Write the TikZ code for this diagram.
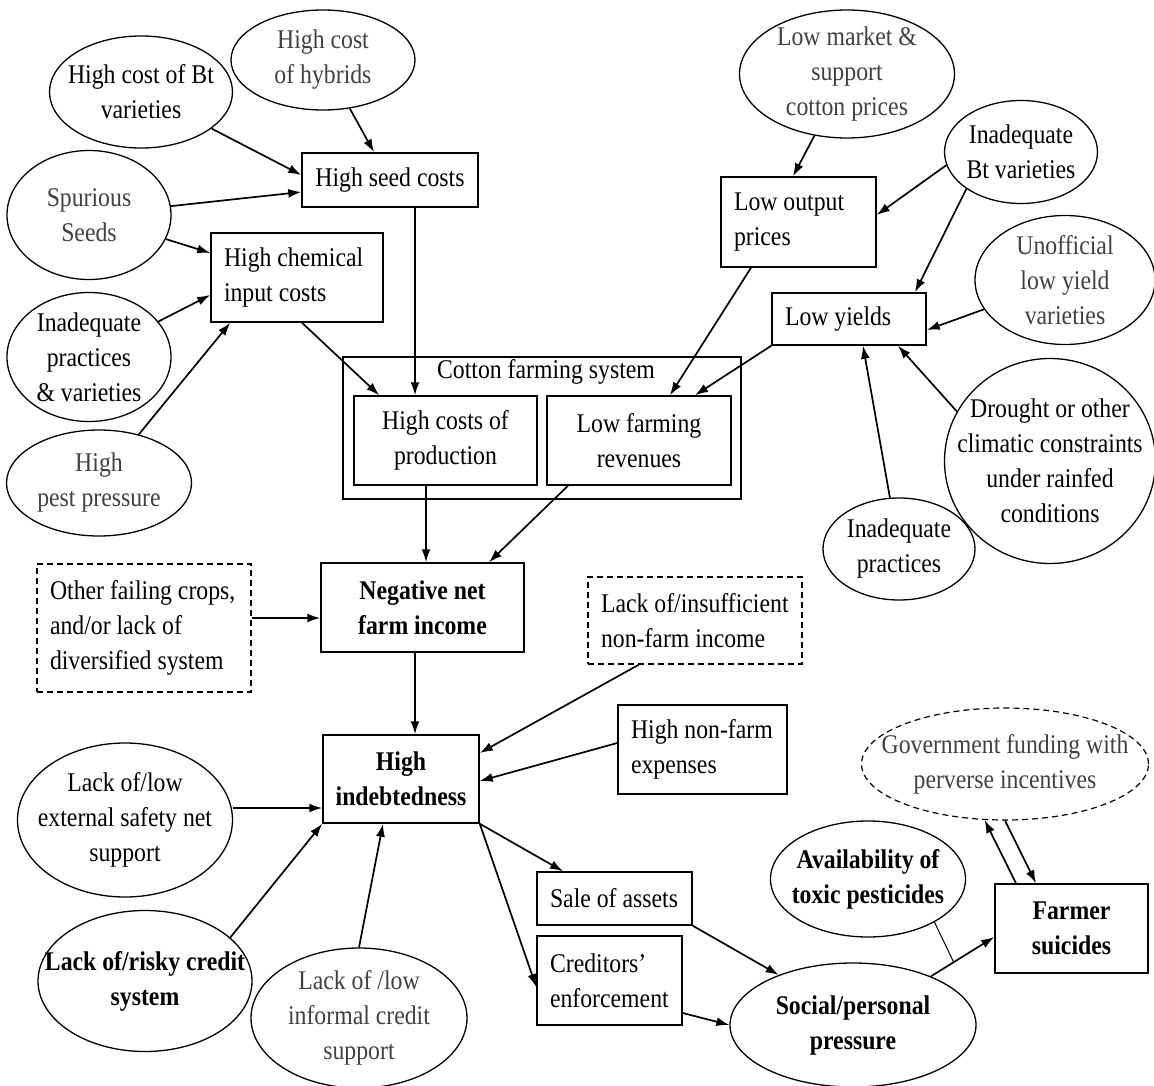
\documentclass[tikz,border=0pt]{standalone}
\usepackage{fontspec}
\setmainfont{Liberation Serif}[FakeStretch=0.88]
\usetikzlibrary{arrows.meta,shapes.geometric,calc}
\tikzset{
	>={Latex[length=13pt,width=9pt]},
	txt/.style={font=\fontsize{27}{35}\selectfont},
	strong/.style={font=\fontsize{27}{35}\selectfont\bfseries},
	faint/.style={text=black!75},
	box/.style 2 args={draw, line width=1.5pt, txt, inner sep=0pt, minimum width=#1, minimum height=#2, align=center},
	lbox/.style 2 args={draw, line width=1.5pt, txt, inner xsep=13pt, inner ysep=0pt, text width=#1, minimum height=#2, align=flush left},
	ell/.style 2 args={draw, ellipse, line width=1.3pt, txt, inner xsep=-40pt, inner ysep=-20pt, minimum width=#1, minimum height=#2, align=center},
	broken/.style={dash pattern=on 6pt off 4pt, line width=1.2pt},
	link/.style={->, line width=1.7pt}
}
\begin{document}
\begin{tikzpicture}[x=1pt, y=-1pt]
	\useasboundingbox (0,0) rectangle (1154,1086);

	\node[ell={183pt}{112pt}] (btcost) at (141,92) {High cost of Bt\\varieties};
	\node[ell={184pt}{100pt}, faint] (hybrid) at (323,60) {High cost\\of hybrids};
	\node[ell={164pt}{129pt}, faint] (spur) at (89,215) {Spurious\\Seeds};
	\node[ell={164pt}{129pt}] (inadpv) at (89,357) {Inadequate\\practices\\\& varieties};
	\node[ell={185pt}{106pt}, faint] (pest) at (99,483) {High\\pest pressure};

	\node[box={176pt}{54pt}] (seed) at (390,180) {High seed costs};
	\node[lbox={146pt}{89pt}] (chem) at (297,277.5) {High chemical\\input costs};

	\node[box={398pt}{142pt}] (cfs) at (542,428) {};
	\node[txt] (cfstitle) at (546,372) {Cotton farming system};
	\node[box={183pt}{89pt}] (hcp) at (445.5,440.5) {High costs of\\production};
	\node[box={184pt}{89pt}] (lfr) at (639,440.5) {Low farming\\revenues};

	\node[ell={215pt}{128pt}, faint] (market) at (847,74) {Low market \&\\support\\cotton prices};
	\node[ell={153pt}{103pt}] (inadbt) at (1021,152) {Inadequate\\Bt varieties};
	\node[lbox={129pt}{90pt}] (lop) at (798.5,222) {Low output\\prices};
	\node[ell={180pt}{129pt}, faint] (unoff) at (1065,280) {Unofficial\\low yield\\varieties};
	\node[lbox={128pt}{52pt}] (lyield) at (849,319) {Low yields};
	\node[ell={211pt}{205pt}] (drought) at (1050,461) {Drought or other\\climatic constraints\\under rainfed\\conditions};
	\node[ell={152pt}{102pt}] (inadp) at (899,549) {Inadequate\\practices};

	\node[lbox={188pt}{128pt}, broken] (other) at (144,628) {\mbox{Other failing crops,}\\and/or lack of\\diversified system};
	\node[box={203pt}{89pt}, strong] (neg) at (422.5,607.5) {Negative net\\farm income};
	\node[lbox={188pt}{87pt}, broken] (insuff) at (695,620.5) {\mbox{Lack of/insufficient}\\non-farm income};
	\node[box={156pt}{88pt}, strong] (indebt) at (401,779) {High\\indebtedness};
	\node[lbox={143pt}{89pt}] (nonfarm) at (702.5,749.5) {\mbox{High non-farm}\\expenses};

	\node[ell={215pt}{154pt}] (safety) at (125,820) {Lack of/low\\external safety net\\support};
	\node[ell={214pt}{141pt}, strong] (risky) at (145,981) {Lack of/risky credit\\system};
	\node[ell={216pt}{140pt}, faint] (informal) at (359,1018) {Lack of /low\\informal credit\\support};

	\node[lbox={129pt}{53pt}] (sale) at (614.5,898.5) {\mbox{Sale of assets}};
	\node[lbox={119pt}{89pt}] (cred) at (609.5,980.5) {Creditors’\\\mbox{enforcement}};
	\node[ell={246pt}{124pt}, strong] (social) at (853,1025) {Social/personal\\pressure};
	\node[ell={195pt}{116pt}, strong] (avail) at (868,879) {Availability of\\toxic pesticides};
	\node[ell={287pt}{112pt}, faint, broken] (govt) at (1005,764) {Government funding with\\perverse incentives};
	\node[box={153pt}{89pt}, strong] (farmer) at (1071.5,928.5) {Farmer\\suicides};

	\draw[link] (btcost) -- ([yshift=5pt]seed.west);
	\draw[link] (hybrid) -- ([xshift=-16pt]seed.north);
	\draw[link] (spur) -- ([yshift=-12pt]seed.west);
	\draw[link] (spur) -- ([yshift=24.5pt]chem.west);
	\draw[link] (inadpv) -- ([yshift=-17.5pt]chem.west);
	\draw[link] (pest) -- ([xshift=20pt]chem.south west);
	\draw[link] ([xshift=5pt]chem.south) -- ([xshift=26pt]hcp.north west);
	\draw[link] ([xshift=25pt]seed.south) -- ([xshift=-30.5pt]hcp.north);

	\draw[link] (market) -- ([xshift=-5.5pt]lop.north);
	\draw[link] (inadbt.190) -- ([yshift=7pt]lop.east);
	\draw[link] (inadbt.214) -- ([xshift=66pt]lyield.north);
	\draw[link] (unoff) -- ([yshift=-11pt]lyield.east);
	\draw[link] (inadp) -- ([xshift=14pt]lyield.south);
	\draw[link] (drought.152) -- ([xshift=49pt]lyield.south);
	\draw[link] ([xshift=-47.5pt]lop.south) -- ([xshift=31pt]lfr.north);
	\draw[link] (lyield.south west) -- ([xshift=56pt]lfr.north);

	\draw[link] ([xshift=-19.5pt]hcp.south) -- ([xshift=3.5pt]neg.north);
	\draw[link] ([xshift=-71pt]lfr.south) -- ([xshift=66.5pt]neg.north);
	\draw[link] ([yshift=10pt]other.east) -- ([yshift=-10.5pt]neg.west);
	\draw[link] ([xshift=-7.5pt]neg.south) -- ([xshift=14pt]indebt.north);
	\draw[link] ([xshift=-56pt]insuff.south) -- ([yshift=26pt]indebt.east);
	\draw[link] ([yshift=6.5pt]nonfarm.west) -- ([yshift=-2pt]indebt.east);
	\draw[link] ([yshift=12pt]safety.east) -- ([yshift=-29pt]indebt.west);
	\draw[link] (risky.27) -- (indebt.south west);
	\draw[link] (informal.north) -- ([xshift=-18pt]indebt.south);

	\draw[link] (indebt.south east) -- ([xshift=-51.5pt]sale.north);
	\draw[link] (indebt.south east) -- ([yshift=-6.5pt]cred.west);
	\draw[link] (sale.south east) -- (social.146);
	\draw[link] ([yshift=-32.5pt]cred.east) -- (social.west);
	\draw[link] (social.32) -- ([yshift=-8.5pt]farmer.west);
	\coordinate (join) at ($(social.32)!0.36!([yshift=-8.5pt]farmer.west)$);
	\draw[line width=1pt] (avail.-33) -- (join);
	\draw[link] ([xshift=-55.5pt]farmer.north) -- (govt.-110);
	\draw[link] (govt.south) -- ([xshift=-35.5pt]farmer.north);
\end{tikzpicture}
\end{document}
